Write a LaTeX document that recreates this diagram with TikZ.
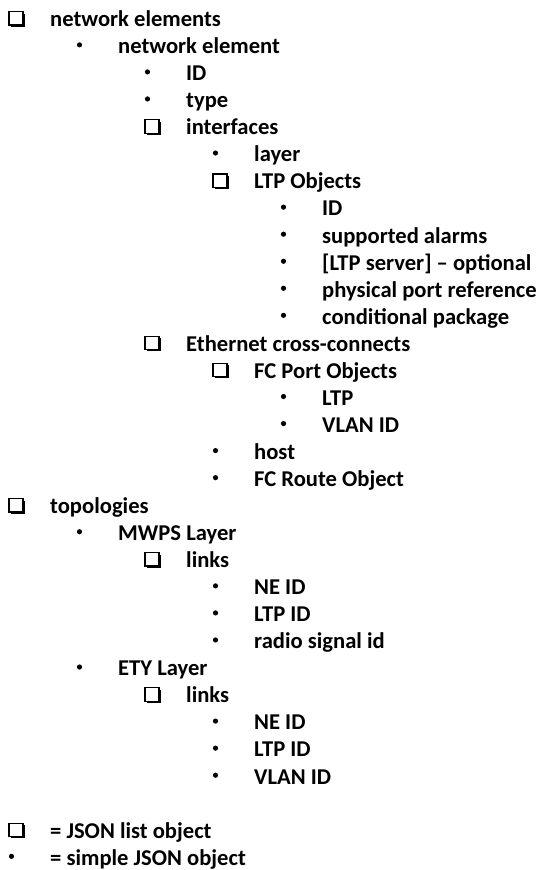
\documentclass[tikz,border=0pt]{standalone}
\usepackage{fontspec}
\setmainfont{Carlito}
\begin{document}
\begin{tikzpicture}[x=1pt,y=-1pt,
  itemtext/.style={anchor=base west,inner sep=0pt,
    font=\bfseries\fontsize{22.6}{27}\selectfont,text=black},
  % Wingdings-like hollow box with a drop shadow
  pics/listbox/.style={code={
    \fill[black] (2,-13) rectangle (15.5,0);
    \draw[line width=1.2pt,fill=white] (0,-15) rectangle (14,-1.6);
  }},
  pics/dotmark/.style={code={\fill[black] (0,0) circle (2.6);}}
]
\useasboundingbox (0,0) rectangle (537,870);
% row / indent level / marker (1 = list box, 0 = bullet) / text
\foreach \r/\l/\m/\t in {
  1/0/1/network elements,
  2/1/0/network element,
  3/2/0/ID,
  4/2/0/type,
  5/2/1/interfaces,
  6/3/0/layer,
  7/3/1/LTP Objects,
  8/4/0/ID,
  9/4/0/supported alarms,
  10/4/0/[LTP server] – optional,
  11/4/0/physical port reference,
  12/4/0/conditional package,
  13/2/1/Ethernet cross-connects,
  14/3/1/FC Port Objects,
  15/4/0/LTP,
  16/4/0/VLAN ID,
  17/3/0/host,
  18/3/0/FC Route Object,
  19/0/1/topologies,
  20/1/0/MWPS Layer,
  21/2/1/links,
  22/3/0/NE ID,
  23/3/0/LTP ID,
  24/3/0/radio signal id,
  25/1/0/ETY Layer,
  26/2/1/links,
  27/3/0/NE ID,
  28/3/0/LTP ID,
  29/3/0/VLAN ID,
  31/0/1/= JSON list object,
  32/0/0/= simple JSON object}{
  \pgfmathsetmacro\bx{50+68*\l}
  \pgfmathsetmacro\by{26.6+27.05*(\r-1)}
  \node[itemtext] (t\r) at (\bx,\by) {\t};
  \ifnum\m=1
    \pic at (\bx-41,\by) {listbox};
  \else
    \pic at (\bx-38.5,\by-8.8) {dotmark};
  \fi
}
\end{tikzpicture}
\end{document}
